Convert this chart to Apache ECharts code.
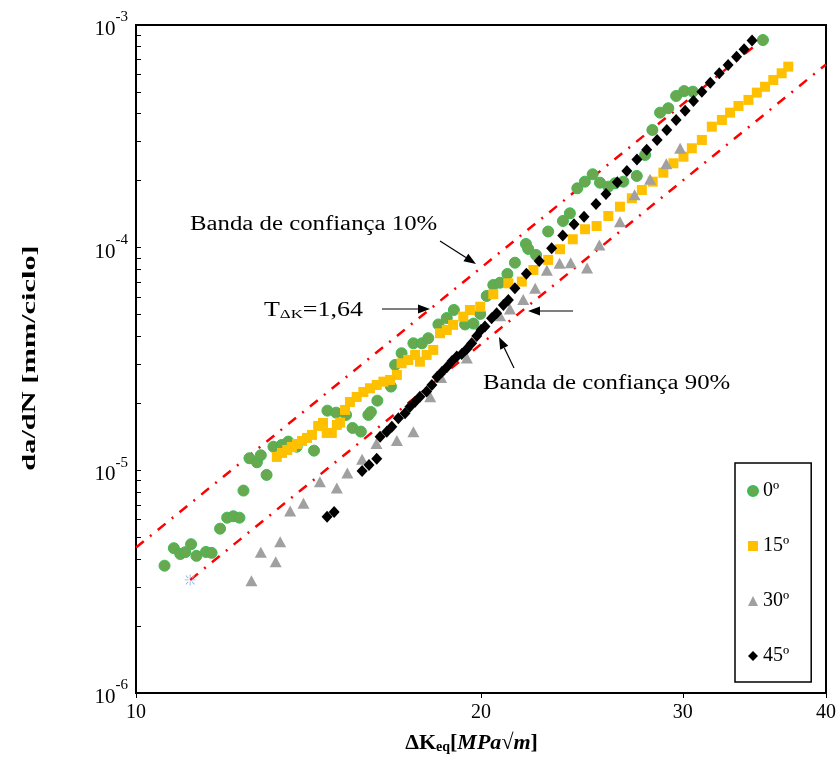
<!DOCTYPE html>
<html><head><meta charset="utf-8">
<script src="https://cdn.jsdelivr.net/npm/echarts@6/dist/echarts.min.js"></script>
<style>html,body{margin:0;padding:0;background:#fff}#c{width:837px;height:757px}</style>
</head><body><div id="c"></div>
<script>
// ---- data ----
const xTickValues = [10, 20, 30, 40];
const yDecades = [-6, -5, -4];
const yMantissas = [1, 2, 3, 4, 5, 6, 7, 8, 9];
const seriesNames = ['0\u00ba', '15\u00ba', '30\u00ba', '45\u00ba'];

const s0 = [[10.59,3.73e-6],[10.79,4.47e-6],[10.93,4.21e-6],[11.04,4.29e-6],[11.17,4.66e-6],[11.29,4.13e-6],[11.51,4.30e-6],[11.64,4.26e-6],[11.84,5.47e-6],[12.01,6.13e-6],[12.16,6.22e-6],[12.31,6.13e-6],[12.41,8.11e-6],[12.56,1.133e-5],[12.75,1.087e-5],[12.85,1.169e-5],[13.00,9.54e-6],[13.18,1.277e-5],[13.40,1.300e-5],[13.58,1.346e-5],[13.81,1.277e-5],[14.30,1.226e-5],[14.69,1.854e-5],[14.95,1.816e-5],[15.25,1.774e-5],[15.45,1.55e-5],[15.71,1.493e-5],[15.95,1.774e-5],[16.03,1.828e-5],[16.24,2.056e-5],[16.69,2.377e-5],[16.83,2.973e-5],[17.05,3.357e-5],[17.46,3.72e-5],[17.76,3.72e-5],[17.99,3.92e-5],[18.36,4.52e-5],[18.67,4.83e-5],[18.94,5.25e-5],[19.37,4.52e-5],[19.70,4.56e-5],[19.97,5.04e-5],[20.23,6.07e-5],[20.50,6.80e-5],[20.78,6.96e-5],[21.09,7.62e-5],[21.41,8.56e-5],[21.89,1.039e-4],[21.99,9.87e-5],[22.34,9.27e-5],[22.89,1.182e-4],[23.58,1.318e-4],[23.91,1.427e-4],[24.27,1.848e-4],[24.64,1.979e-4],[25.03,2.136e-4],[25.40,1.958e-4],[25.83,1.879e-4],[26.18,1.946e-4],[26.62,1.979e-4],[27.35,2.099e-4],[27.81,2.608e-4],[28.22,3.377e-4],[28.66,4.04e-4],[29.14,4.23e-4],[29.60,4.80e-4],[30.08,5.05e-4],[30.61,5.02e-4],[35.24,8.56e-4]];

const s15 = [[13.27,1.149e-5],[13.41,1.197e-5],[13.55,1.235e-5],[13.68,1.274e-5],[13.82,1.314e-5],[13.96,1.355e-5],[14.10,1.398e-5],[14.24,1.442e-5],[14.42,1.583e-5],[14.56,1.633e-5],[14.67,1.472e-5],[14.82,1.472e-5],[14.97,1.599e-5],[15.07,1.638e-5],[15.22,1.867e-5],[15.37,2.028e-5],[15.58,2.136e-5],[15.79,2.249e-5],[16.00,2.337e-5],[16.22,2.418e-5],[16.44,2.502e-5],[16.66,2.546e-5],[16.89,2.682e-5],[17.05,3.026e-5],[17.28,3.131e-5],[17.52,3.298e-5],[17.69,3.076e-5],[17.93,3.298e-5],[18.17,3.473e-5],[18.42,4.127e-5],[18.67,4.27e-5],[18.91,4.50e-5],[19.30,4.90e-5],[19.56,5.25e-5],[19.97,5.43e-5],[20.50,6.18e-5],[21.13,6.92e-5],[21.71,7.04e-5],[22.22,7.94e-5],[22.89,8.81e-5],[23.44,9.84e-5],[24.05,1.091e-4],[24.65,1.21e-4],[25.23,1.251e-4],[25.83,1.388e-4],[26.44,1.528e-4],[27.08,1.667e-4],[27.63,1.816e-4],[28.24,1.979e-4],[28.85,2.172e-4],[29.44,2.393e-4],[30.04,2.562e-4],[30.55,2.795e-4],[31.17,3.046e-4],[31.80,3.495e-4],[32.45,3.746e-4],[32.99,4.04e-4],[33.55,4.33e-4],[34.23,4.61e-4],[34.81,4.97e-4],[35.39,5.28e-4],[35.98,5.66e-4],[36.59,6.07e-4],[37.08,6.50e-4]];

const s30 = [[12.61,3.19e-6],[12.85,4.29e-6],[13.24,3.89e-6],[13.36,4.78e-6],[13.63,6.57e-6],[14.00,7.12e-6],[14.47,8.89e-6],[14.97,8.34e-6],[15.29,9.73e-6],[15.75,1.122e-5],[16.21,1.321e-5],[16.89,1.362e-5],[17.46,1.492e-5],[18.06,2.142e-5],[18.46,2.613e-5],[19.44,3.197e-5],[20.78,4.94e-5],[21.20,5.31e-5],[21.77,5.85e-5],[22.30,6.57e-5],[22.83,7.92e-5],[23.42,8.51e-5],[23.95,8.56e-5],[24.75,8.11e-5],[25.37,1.028e-4],[26.44,1.309e-4],[27.23,1.73e-4],[28.09,2.028e-4],[29.02,2.383e-4],[29.84,2.795e-4]];

const s45 = [[14.68,6.18e-6],[14.89,6.50e-6],[15.75,9.94e-6],[15.97,1.057e-5],[16.22,1.126e-5],[16.33,1.417e-5],[16.55,1.492e-5],[16.72,1.571e-5],[16.94,1.714e-5],[17.17,1.805e-5],[17.34,1.932e-5],[17.52,2.035e-5],[17.69,2.142e-5],[17.93,2.257e-5],[18.12,2.418e-5],[18.31,2.626e-5],[18.49,2.766e-5],[18.68,2.913e-5],[18.87,3.099e-5],[19.05,3.242e-5],[19.24,3.333e-5],[19.44,3.509e-5],[19.63,3.722e-5],[19.83,4.014e-5],[20.00,4.27e-5],[20.16,4.42e-5],[20.43,4.82e-5],[20.64,5.08e-5],[20.92,5.53e-5],[21.13,5.82e-5],[21.41,6.57e-5],[21.91,7.64e-5],[22.48,8.72e-5],[23.05,9.94e-5],[23.57,1.135e-4],[24.11,1.274e-4],[24.60,1.378e-4],[25.20,1.571e-4],[25.71,1.742e-4],[26.30,1.966e-4],[26.81,2.211e-4],[27.36,2.489e-4],[27.90,2.754e-4],[28.49,3.046e-4],[29.05,3.377e-4],[29.60,3.746e-4],[30.14,4.12e-4],[30.65,4.56e-4],[31.17,5.02e-4],[31.70,5.51e-4],[32.28,6.07e-4],[32.86,6.61e-4],[33.42,7.21e-4],[33.93,7.78e-4],[34.48,8.52e-4]];

const band10 = [[10, 4.5e-6], [35, 8.4e-4]];
const band90 = [[11.15, 3.22e-6], [40, 6.65e-4]];

// ---- build ----
const yTickValues = [];
yDecades.forEach(function (d) { yMantissas.forEach(function (m) { yTickValues.push(+(m + 'e' + d)); }); });
yTickValues.push(1e-3);

const SERIF = '"Liberation Serif", "Times New Roman", serif';
const chart = echarts.init(document.getElementById('c'), null, {renderer: 'canvas'});

const asterisk = 'path://M4.6,0h0.8v3.6h-0.8z M4.6,6.4h0.8v3.6h-0.8z M0,4.6h3.6v0.8h-3.6z M6.4,4.6h3.6v0.8h-3.6z M1.3,0.7l2.3,2.3l-0.6,0.6l-2.3,-2.3z M7,6.4l2.3,2.3l-0.6,0.6l-2.3,-2.3z M8.7,0.7l0.6,0.6l-2.3,2.3l-0.6,-0.6z M3,6.4l0.6,0.6l-2.3,2.3l-0.6,-0.6z';

function arrow(x1, y1, x2, y2) {
  const a = Math.atan2(y2 - y1, x2 - x1), L = 12, W = 4.5;
  const bx = x2 - L * Math.cos(a), by = y2 - L * Math.sin(a);
  const px = -Math.sin(a) * W, py = Math.cos(a) * W;
  return [
    {type: 'line', shape: {x1: x1, y1: y1, x2: bx, y2: by}, style: {stroke: '#000', lineWidth: 1.2}, z: 100},
    {type: 'polygon', shape: {points: [[x2, y2], [bx + px, by + py], [bx - px, by - py]]}, style: {fill: '#000'}, z: 100}
  ];
}

const bandStyle = {color: '#ff0000', width: 2.5, type: [10, 8, 2, 8]};

const option = {
  backgroundColor: '#fff',
  animation: false,
  grid: {left: 136, right: 11, top: 25, bottom: 64, show: true, borderColor: '#000', borderWidth: 2, containLabel: false, outerBoundsMode: 'none'},
  xAxis: {
    type: 'log', logBase: 10, min: 10, max: 40,
    axisLine: {show: true, lineStyle: {color: '#000', width: 2}},
    axisTick: {show: true, inside: false, length: 5, customValues: xTickValues, lineStyle: {color: '#000', width: 1}},
    axisLabel: {customValues: xTickValues, color: '#000', fontFamily: SERIF, fontSize: 20, margin: 10},
    splitLine: {show: false}, minorTick: {show: false}, minorSplitLine: {show: false},
    name: '{d|\u0394K}{s|eq}{b|[}{i|MPa\u221Am}{b|]}', nameLocation: 'middle', nameGap: 35,
    nameTextStyle: {padding: [0, 19, 0, 0], rich: {
      d: {fontFamily: SERIF, fontWeight: 'bold', fontSize: 22, color: '#000', verticalAlign: 'bottom', lineHeight: 26},
      s: {fontFamily: SERIF, fontWeight: 'bold', fontSize: 14, color: '#000', verticalAlign: 'bottom', lineHeight: 20},
      b: {fontFamily: SERIF, fontWeight: 'bold', fontSize: 22, color: '#000', verticalAlign: 'bottom', lineHeight: 26},
      i: {fontFamily: SERIF, fontWeight: 'bold', fontStyle: 'italic', fontSize: 22, color: '#000', verticalAlign: 'bottom', lineHeight: 26}
    }}
  },
  yAxis: {
    type: 'log', logBase: 10, min: 1e-6, max: 1e-3,
    axisLine: {show: true, lineStyle: {color: '#000', width: 2}},
    axisTick: {show: true, inside: true, length: 5, customValues: yTickValues, lineStyle: {color: '#000', width: 1}},
    axisLabel: {
      color: '#000', margin: 8,
      formatter: function (v) { return '{b|10}{e|' + Math.round(Math.log10(v)) + '}'; },
      rich: {
        b: {fontFamily: SERIF, fontSize: 21, color: '#000', lineHeight: 30, verticalAlign: 'bottom'},
        e: {fontFamily: SERIF, fontSize: 15, color: '#000', lineHeight: 15, verticalAlign: 'top'}
      }
    },
    splitLine: {show: false}, minorTick: {show: false}
  },
  legend: {
    orient: 'vertical', left: 735, top: 463,
    data: seriesNames,
    itemWidth: 10, itemHeight: 10, itemGap: 33,
    padding: [17, 22, 15, 12],
    borderColor: '#000', borderWidth: 1.5, backgroundColor: '#fff',
    textStyle: {fontFamily: SERIF, fontSize: 20, color: '#000', lineHeight: 22}
  },
  series: [
    {type: 'line', data: band10, symbol: 'none', lineStyle: bandStyle, silent: true, z: 1},
    {type: 'line', data: band90.map(function (p, i) { return i === 0 ? {value: p, symbol: asterisk, symbolSize: 11} : {value: p, symbol: 'none'}; }),
     showSymbol: true, itemStyle: {color: '#8fb3e0'}, lineStyle: bandStyle, silent: true, z: 1},
    {name: seriesNames[0], type: 'scatter', data: s0, symbol: 'circle', symbolSize: 11,
     itemStyle: {color: '#6aa84f', borderColor: '#3cba54', borderWidth: 1, opacity: 1}, z: 3},
    {name: seriesNames[1], type: 'scatter', data: s15, symbol: 'rect', symbolSize: 10,
     itemStyle: {color: '#ffc000', opacity: 1}, z: 4},
    {name: seriesNames[2], type: 'scatter', data: s30, symbol: 'triangle', symbolSize: [12, 11],
     itemStyle: {color: '#a0a0a0', opacity: 1}, z: 5},
    {name: seriesNames[3], type: 'scatter', data: s45, symbol: 'diamond', symbolSize: [11, 12],
     itemStyle: {color: '#000', opacity: 1}, z: 6}
  ],
  graphic: [
    {type: 'text', left: 190, top: 215, z: 100, style: {text: 'Banda de confian\u00e7a 10%', font: '20px ' + SERIF, fill: '#000'}, scaleX: 1.24},
    {type: 'text', x: 363, y: 309, z: 100, scaleX: 1.3, style: {
      text: '{a|T}{s|\u0394K}{a|=1,64}', align: 'right', verticalAlign: 'middle',
      rich: {a: {font: '20px ' + SERIF, fill: '#000', lineHeight: 24, verticalAlign: 'bottom'}, s: {font: '13px ' + SERIF, fill: '#000', lineHeight: 18, verticalAlign: 'bottom'}}}},
    {type: 'text', left: 483, top: 374, z: 100, style: {text: 'Banda de confian\u00e7a 90%', font: '20px ' + SERIF, fill: '#000'}, scaleX: 1.24},
    {type: 'text', x: 30, y: 358, rotation: Math.PI / 2, scaleX: 1.6, z: 100, style: {text: 'da/dN [mm/ciclo]', font: 'bold 19px ' + SERIF, fill: '#000', align: 'center', verticalAlign: 'middle'}}
  ].concat(arrow(440, 241, 476, 264), arrow(382, 309, 430, 309), arrow(514, 368, 499, 337), arrow(573, 311, 528, 311))
};
chart.setOption(option);
</script>
</body></html>
